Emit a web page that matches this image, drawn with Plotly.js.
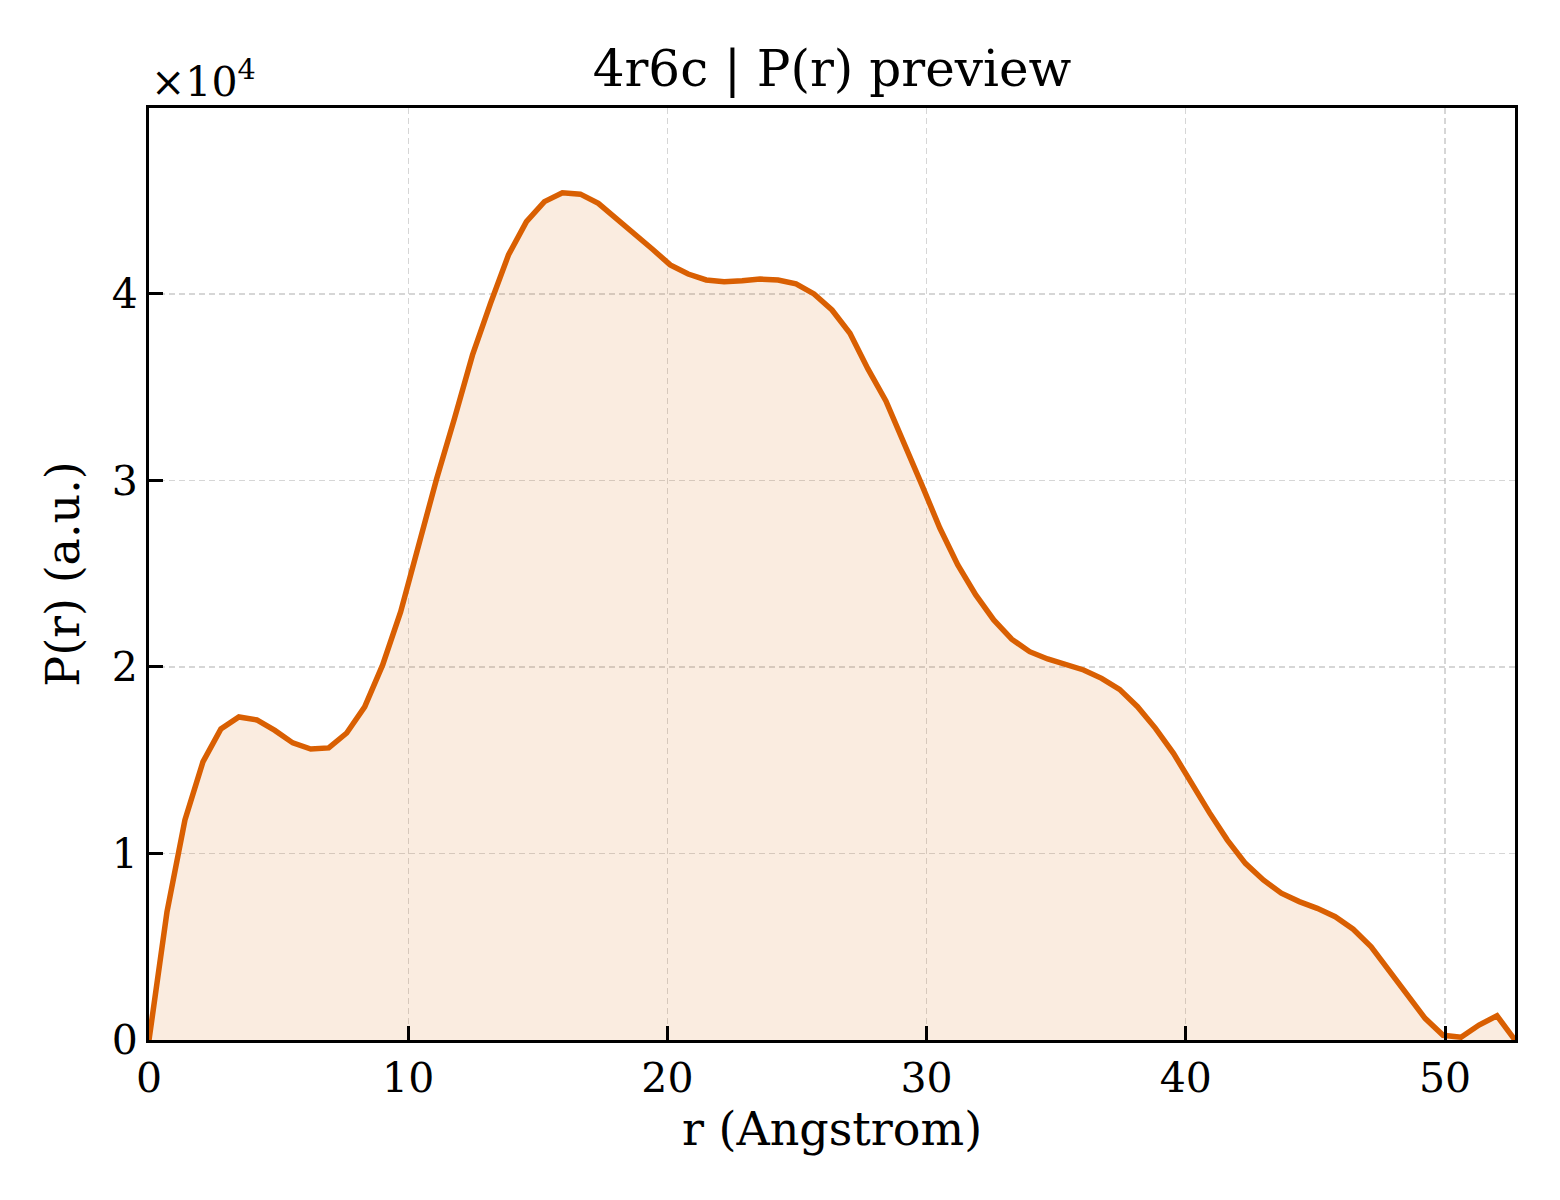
<!DOCTYPE html>
<html>
<head>
<meta charset="utf-8">
<script src="https://cdn.plot.ly/plotly-3.0.1.min.js"></script>
<style>html,body{margin:0;padding:0;background:#fff;}#chart{width:1560px;height:1200px;}</style>
</head>
<body>
<div id="chart"></div>
<script>
// r grid (Angstrom): 77 samples, step ~0.6934
const rStep = 0.6934;
const pr = [
  0, 6860, 11800, 14910, 16680, 17320, 17160, 16600, 15930, 15600,
  15660, 16460, 17860, 20110, 22950, 26540, 30080, 33340, 36730, 39500,
  42090, 43880, 44950, 45430, 45350, 44860, 44060, 43220, 42410, 41560,
  41070, 40750, 40660, 40710, 40800, 40750, 40540, 40000, 39140, 37890,
  35980, 34260, 32060, 29760, 27450, 25470, 23860, 22520, 21490, 20820,
  20430, 20110, 19840, 19390, 18800, 17870, 16710, 15370, 13760, 12190,
  10720, 9470, 8580, 7870, 7420, 7060, 6610, 5940, 5000, 3720,
  2410, 1160, 250, 150, 800, 1300, 0
];
const r = pr.map((_, i) => +(i * rStep).toFixed(4));
const yTickVals = [0, 10000, 20000, 30000, 40000];
const yTickText = ["0", "1", "2", "3", "4"];
const xTickVals = [0, 10, 20, 30, 40, 50];

const font = "DejaVu Serif, Liberation Serif, serif";
const trace = {
  x: r, y: pr, type: "scatter", mode: "lines",
  line: {color: "#d95f02", width: 5.5},
  fill: "tozeroy", fillcolor: "rgba(217,95,2,0.12)",
  hoverinfo: "skip"
};
const axisCommon = {
  showline: true, linecolor: "#000", linewidth: 3, mirror: true,
  ticks: "inside", ticklen: 14, tickwidth: 3, tickcolor: "#000",
  showgrid: true, gridcolor: "rgba(180,180,180,0.55)", gridwidth: 1.3, griddash: "6px,4px",
  zeroline: false, tickfont: {family: font, size: 41, color: "#000"}
};
const layout = {
  width: 1560, height: 1200,
  margin: {l: 149, r: 45, t: 108, b: 160},
  paper_bgcolor: "#fff", plot_bgcolor: "#fff",
  showlegend: false,
  title: {text: "4r6c | P(r) preview", font: {family: font, size: 50, color: "#000"},
          x: 0.5, xref: "paper", y: 1 - 68/1200, yanchor: "middle"},
  xaxis: Object.assign({}, axisCommon, {
    range: [0, 52.7], tickvals: xTickVals, ticktext: xTickVals.map(String),
    title: {text: "r (Angstrom)", font: {family: font, size: 46, color: "#000"}, standoff: 12}
  }),
  yaxis: Object.assign({}, axisCommon, {
    range: [0, 49970], tickvals: yTickVals, ticktext: yTickText,
    title: {text: "P(r) (a.u.)", font: {family: font, size: 46, color: "#000"}, standoff: 18}
  }),
  annotations: [{
    text: "×10<sup>4</sup>", xref: "paper", yref: "paper", x: 0, y: 1,
    xanchor: "left", yanchor: "bottom", yshift: 0, showarrow: false,
    font: {family: font, size: 41, color: "#000"}
  }]
};
Plotly.newPlot("chart", [trace], layout, {staticPlot: true, displayModeBar: false});
</script>
</body>
</html>
